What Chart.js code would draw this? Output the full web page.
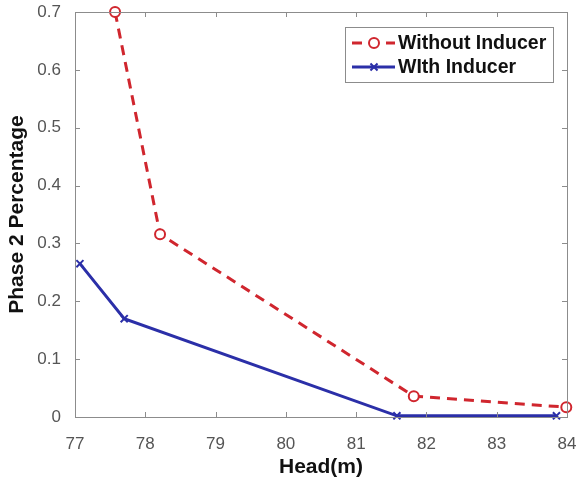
<!DOCTYPE html>
<html>
<head>
<meta charset="utf-8">
<script src="https://cdn.jsdelivr.net/npm/chart.js@4"></script>
<style>
  body { margin: 0; background: #fff; }
  #wrap { width: 580px; height: 482px; }
</style>
</head>
<body>
<div id="wrap"><canvas id="chart" width="580" height="482"></canvas></div>
<script>
  // data
  const headWithout = [77.57, 78.21, 81.82, 83.99];
  const phaseWithout = [0.70, 0.316, 0.036, 0.017];
  const headWith = [77.07, 77.70, 81.58, 83.85];
  const phaseWith = [0.265, 0.170, 0.002, 0.002];
  const xTicks = [77, 78, 79, 80, 81, 82, 83, 84];
  const yTickLabels = ["0", "0.1", "0.2", "0.3", "0.4", "0.5", "0.6", "0.7"];

  const FONT = "'Liberation Sans', Arial, sans-serif";
  const toPoints = (xs, ys) => xs.map((x, i) => ({ x: x, y: ys[i] }));

  //Draw the matlab style box, inward ticks and legend inside the plot
  const boxPlugin = {
    id: "box",
    afterDraw(chart) {
      const c = chart.ctx;
      const a = chart.chartArea;
      const sx = chart.scales.x, sy = chart.scales.y;
      c.save();
      c.strokeStyle = "#8c8c8c";
      c.lineWidth = 1;
      c.strokeRect(a.left + 0.5, a.top + 0.5, a.right - a.left, a.bottom - a.top);
      c.beginPath();
      xTicks.forEach((v) => {
        const px = Math.round(sx.getPixelForValue(v)) + 0.5;
        c.moveTo(px, a.bottom); c.lineTo(px, a.bottom - 5);
        c.moveTo(px, a.top); c.lineTo(px, a.top + 5);
      });
      yTickLabels.forEach((t) => {
        const py = Math.round(sy.getPixelForValue(parseFloat(t))) + 0.5;
        c.moveTo(a.left, py); c.lineTo(a.left + 5, py);
        c.moveTo(a.right, py); c.lineTo(a.right - 5, py);
      });
      c.stroke();

      // legend
      const lx = 345, ly = 27, lw = 208, lh = 55;
      c.fillStyle = "#fff";
      c.fillRect(lx, ly, lw, lh);
      c.strokeRect(lx + 0.5, ly + 0.5, lw, lh);
      c.font = "bold 19.5px " + FONT;
      c.textBaseline = "middle";
      chart.data.datasets.forEach((ds, i) => {
        const yy = ly + 16 + i * 24;
        c.strokeStyle = ds.borderColor;
        c.lineWidth = ds.borderWidth;
        c.setLineDash(ds.borderDash || []);
        c.beginPath();
        c.moveTo(lx + 7, yy); c.lineTo(lx + 50, yy);
        c.stroke();
        c.setLineDash([]);
        c.fillStyle = ds.pointBackgroundColor || ds.borderColor;
        c.strokeStyle = ds.borderColor;
        c.lineWidth = ds.pointBorderWidth;
        Chart.helpers.drawPoint(c, {
          pointStyle: ds.pointStyle, radius: ds.pointRadius,
          borderWidth: ds.pointBorderWidth
        }, lx + 29, yy);
        c.fillStyle = "#111";
        c.textAlign = "left";
        c.fillText(ds.label, lx + 53, yy + 1);
      });
      c.restore();
    }
  };

  window.addEventListener("load", () => {
    const ctx = document.getElementById("chart");
    new Chart(ctx, {
      type: "line",
      data: {
        datasets: [
          {
            label: "Without Inducer",
            data: toPoints(headWithout, phaseWithout),
            borderColor: "#d0262e",
            backgroundColor: "#fff",
            borderWidth: 3,
            borderDash: [10, 7],
            pointStyle: "circle",
            pointRadius: 5,
            pointBorderWidth: 2,
            pointBackgroundColor: "#fff",
            pointBorderColor: "#d0262e",
          },
          {
            label: "WIth Inducer",
            data: toPoints(headWith, phaseWith),
            borderColor: "#2b2fa8",
            backgroundColor: "#2b2fa8",
            borderWidth: 3,
            pointStyle: "crossRot",
            pointRadius: 5,
            pointBorderWidth: 2,
            pointBorderColor: "#2b2fa8",
          },
        ],
      },
      options: {
        responsive: false,
        animation: false,
        clip: false,
        layout: { padding: { top: 12, right: 13, left: 5, bottom: 0 } },
        plugins: { legend: { display: false }, tooltip: { enabled: false } },
        scales: {
          x: {
            type: "linear",
            min: 77, max: 84,
            afterBuildTicks: (s) => { s.ticks = xTicks.map((v) => ({ value: v })); },
            afterFit: (s) => {
              s.height = 65;
              s.paddingLeft = 0; s.paddingRight = 0;
            },
            grid: { display: false },
            border: { display: false },
            ticks: {
              color: "#555", padding: 9,
              font: { size: 17, family: FONT },
              maxRotation: 0,
            },
            title: {
              display: true, text: "Head(m)", color: "#111",
              font: { size: 21, weight: "bold", family: FONT },
              padding: { top: 0, bottom: 2 },
            },
          },
          y: {
            type: "linear",
            min: 0, max: 0.7,
            afterBuildTicks: (s) => { s.ticks = yTickLabels.map((t) => ({ value: parseFloat(t) })); },
            afterFit: (s) => {
              s.width = 70;
              s.paddingTop = 0; s.paddingBottom = 0;
            },
            grid: { display: false },
            border: { display: false },
            ticks: {
              color: "#555", padding: 6,
              font: { size: 17, family: FONT },
              callback: (v, i) => yTickLabels[i],
            },
            title: {
              display: true, text: "Phase 2 Percentage", color: "#111",
              font: { size: 21, weight: "bold", family: FONT },
              padding: { top: 0, bottom: 0 },
            },
          },
        },
      },
      plugins: [boxPlugin],
    });
  });
</script>
</body>
</html>
